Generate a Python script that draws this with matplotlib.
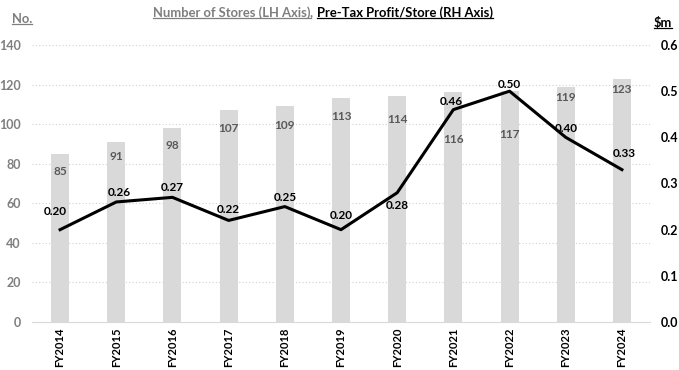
import numpy as np
import matplotlib
matplotlib.use("Agg")
import matplotlib.pyplot as plt
from matplotlib.lines import Line2D

plt.rcParams["font.family"] = ["Lato", "DejaVu Sans"]

years = ["FY2014", "FY2015", "FY2016", "FY2017", "FY2018", "FY2019",
         "FY2020", "FY2021", "FY2022", "FY2023", "FY2024"]
stores = [85, 91, 98, 107, 109, 113, 114, 116, 117, 119, 123]
profit = [0.20, 0.26, 0.27, 0.22, 0.25, 0.20, 0.28, 0.46, 0.50, 0.40, 0.33]

# label placement (pixels) — hand-moved in the source chart
bar_lbl_dy = [-18, -15, -17, -18, -19, -18, -23, -47, -44, -11, -11]
line_lbl_off = [(-5, 18), (3, 9), (0, 10), (0, 11), (0, 9), (0, 14),
                (0, -13), (-2, 8), (0, 7), (1, 9), (2, 16)]

GREY_BAR = "#D9D9D9"; GREY_TXT = "#7F7F7F"; INK = "#000000"; LBL = "#595959"
PX = 0.72  # points per pixel at dpi 100

fig = plt.figure(figsize=(6.79, 3.70), dpi=100)
ax = fig.add_axes([32/679, 1-322/370, 618/679, 277/370])
ax2 = ax.twinx()

x = np.arange(len(years))
ax.bar(x, stores, width=0.32, color=GREY_BAR, zorder=2)
for xi, v, dy in zip(x, stores, bar_lbl_dy):
    ax.annotate(str(v), (xi, v), xytext=(0, dy*PX), textcoords="offset points",
                ha="center", va="center", fontsize=8.5, color=LBL, fontweight="bold")

ax.set_xlim(-0.5, len(years)-0.5)
ax.set_ylim(0, 140)
ax.set_yticks(range(0, 141, 20))
ax.grid(axis="y", color="#D0D0D0", linestyle=(0, (1, 2)), lw=0.8, zorder=0)
ax.set_axisbelow(True)
ax.set_xticks(x)
ax.set_xticklabels(years, rotation=90, fontsize=8, fontweight="bold", color=INK)
ax.tick_params(axis="y", length=0, pad=8, labelsize=9, labelcolor=GREY_TXT)
ax.tick_params(axis="x", length=0, pad=4)
for t in ax.get_yticklabels(): t.set_fontweight("bold")

ax2.plot(x, profit, color=INK, lw=2.2, zorder=5)
for xi, v, (ox, oy) in zip(x, profit, line_lbl_off):
    ax2.annotate(f"{v:.2f}", (xi, v), xytext=(ox*PX, oy*PX), textcoords="offset points",
                 ha="center", va="center", fontsize=8.5, fontweight="bold", color=INK)
ax2.set_ylim(0, 0.6)
ticks = np.arange(0, 0.61, 0.1)
ax2.set_yticks(ticks)
ax2.set_yticklabels([f"{t:.1f}" for t in ticks])
ax2.tick_params(axis="y", length=0, pad=8, labelsize=9, labelcolor=INK)
for t in ax2.get_yticklabels(): t.set_fontweight("bold")

for a in (ax, ax2):
    for s in a.spines.values(): s.set_visible(False)
ax.spines["bottom"].set_visible(True)
ax.spines["bottom"].set_color("#D9D9D9")

# titles with underline
fig.canvas.draw()
r = fig.canvas.get_renderer()

def underline(t, color):
    bb = t.get_window_extent(r).transformed(fig.transFigure.inverted())
    y = bb.y0 + 0.004
    fig.add_artist(Line2D([bb.x0, bb.x1], [y, y], transform=fig.transFigure, color=color, lw=0.9))
    return bb

t1 = fig.text(153/679, 1-13/370, "Number of Stores (LH Axis)", ha="left", va="center",
              fontsize=9.4, fontweight="bold", color=GREY_TXT)
bb1 = underline(t1, GREY_TXT)
t1b = fig.text(bb1.x1, 1-13/370, ", ", ha="left", va="center", fontsize=9.4,
               fontweight="bold", color=GREY_TXT)
bbc = t1b.get_window_extent(r).transformed(fig.transFigure.inverted())
t2 = fig.text(bbc.x1, 1-13/370, "Pre-Tax Profit/Store (RH Axis)", ha="left", va="center",
              fontsize=9.4, fontweight="bold", color=INK)
underline(t2, INK)

t3 = fig.text(12/679, 1-19/370, "No.", ha="left", va="center", fontsize=9.4,
              fontweight="bold", color=GREY_TXT)
underline(t3, GREY_TXT)
t4 = fig.text(654/679, 1-23/370, "$m", ha="left", va="center", fontsize=9.4,
              fontweight="bold", color=INK)
underline(t4, INK)

fig.savefig("out.png", dpi=100)
